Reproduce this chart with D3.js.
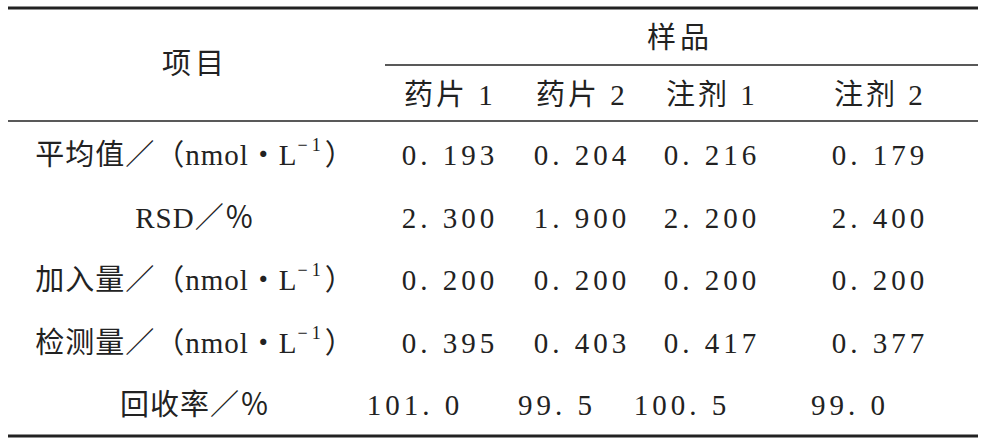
<!DOCTYPE html>
<html><head><meta charset="utf-8">
<script src="https://cdn.jsdelivr.net/npm/d3@7"></script>
<style>body{margin:0;background:#fff}text{fill:#222}</style>
</head><body>
<svg id="tbl" width="992" height="448"></svg>
<script>
const samples = ["药片 1", "药片 2", "注剂 1", "注剂 2"];
const rowLabels = ["平均值／（nmol・L", "RSD／％", "加入量／（nmol・L", "检测量／（nmol・L", "回收率／％"];
const rowUnitSup = [true, false, true, true, false];
const meanVals = ["0.193", "0.204", "0.216", "0.179"];
const rsdVals = ["2.300", "1.900", "2.200", "2.400"];
const addedVals = ["0.200", "0.200", "0.200", "0.200"];
const foundVals = ["0.395", "0.403", "0.417", "0.377"];
const recoveryVals = ["101.0", "99.5", "100.5", "99.0"];
const rows = [meanVals, rsdVals, addedVals, foundVals, recoveryVals];

const svg = d3.select("#tbl");
const font = "'Liberation Serif','Noto Sans CJK SC',serif";
const x = d3.scaleOrdinal().domain(samples).range([450, 582, 712, 880]);
const y = d3.scalePoint().domain(d3.range(rows.length)).range([155, 405]);

// rules
svg.append("line").attr("x1", 8).attr("x2", 978).attr("y1", 8).attr("y2", 8).attr("stroke", "#222").attr("stroke-width", 3);
svg.append("line").attr("x1", 385).attr("x2", 978).attr("y1", 65).attr("y2", 65).attr("stroke", "#222").attr("stroke-width", 1.5);
svg.append("line").attr("x1", 8).attr("x2", 978).attr("y1", 121).attr("y2", 121).attr("stroke", "#222").attr("stroke-width", 1.5);
svg.append("line").attr("x1", 8).attr("x2", 978).attr("y1", 436).attr("y2", 436).attr("stroke", "#222").attr("stroke-width", 3);

const txt = (sel) => sel.attr("font-family", font).attr("font-size", 29).attr("text-anchor", "middle").attr("dominant-baseline", "central");

txt(svg.append("text").attr("x", 195).attr("y", 64).attr("letter-spacing", 4).text("项目"));
txt(svg.append("text").attr("x", 680).attr("y", 38).attr("letter-spacing", 4).text("样品"));
svg.selectAll(".hd").data(samples).join("text").attr("class", "hd")
  .call(txt).attr("x", d => x(d)).attr("y", 95).attr("letter-spacing", 3).text(d => d);

rowLabels.forEach((lab, i) => {
  const t = svg.append("text").call(txt).attr("x", 195).attr("y", y(i)).attr("letter-spacing", 1);
  t.append("tspan").text(lab);
  if (rowUnitSup[i]) {
    t.append("tspan").attr("font-size", 18).attr("dy", -10).attr("letter-spacing", 4).text("−1");
    t.append("tspan").attr("dy", 10).text("）");
  }
  svg.selectAll(".r" + i).data(rows[i]).join("text").attr("class", "r" + i)
    .call(txt).attr("letter-spacing", 4)
    .attr("x", (d, j) => x(samples[j]) - (i === 4 ? [35, 25, 30, 30][j] : 0))
    .attr("y", y(i)).text(d => d.replace(".", ". "));
});
</script>
</body></html>
